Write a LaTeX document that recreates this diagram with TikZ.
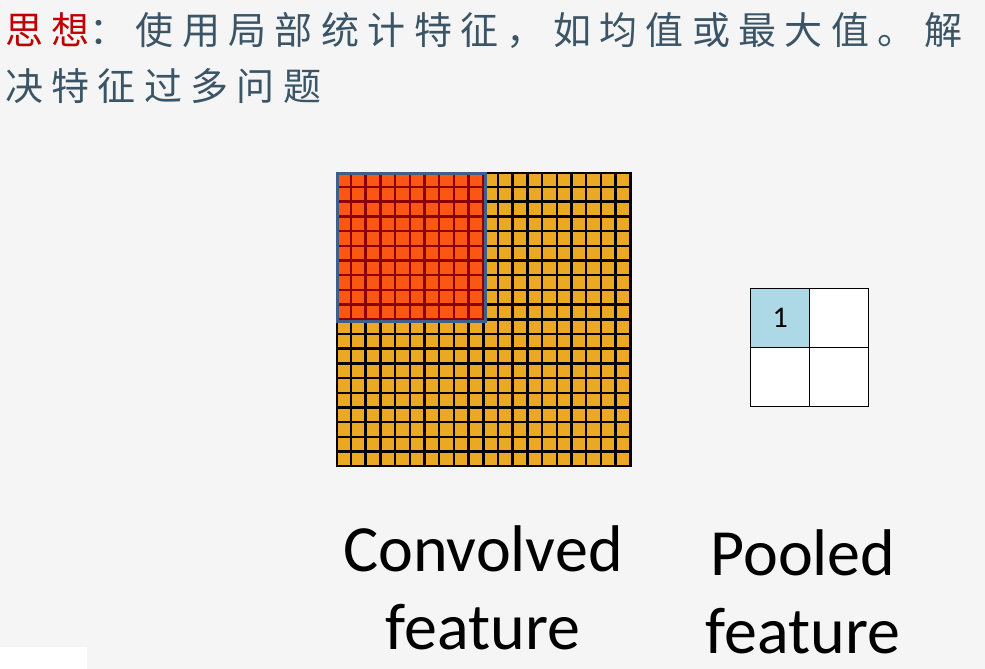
\documentclass[tikz,border=0pt]{standalone}
\usepackage{fontspec}
\setmainfont{Carlito}
\newfontfamily\cjk[LetterSpace=22]{Noto Sans CJK SC}
\definecolor{bgc}{HTML}{F5F5F5}
\definecolor{titlec}{HTML}{3B5566}
\definecolor{redc}{HTML}{C00000}
\definecolor{orc}{HTML}{EBA923}
\definecolor{rc}{HTML}{FB5713}
\definecolor{drc}{HTML}{8A0000}
\definecolor{bluec}{HTML}{3E5F8A}
\definecolor{lbc}{HTML}{ADD8E6}
\tikzset{lbl/.style={font=\fontsize{66}{78}\selectfont, align=center, text=black}}
\begin{document}
\begin{tikzpicture}[x=1pt,y=-1pt]
\useasboundingbox (0,0) rectangle (985,669);
\fill[bgc] (0,0) rectangle (985,669);
\fill[white] (0,647) rectangle (87,669);
\node[anchor=base west, inner sep=0, text=titlec, font=\cjk\fontsize{38}{40}\selectfont] (t1) at (5,45) {\textcolor{redc}{思想}：使用局部统计特征，如均值或最大值。解};
\node[anchor=base west, inner sep=0, text=titlec, font=\cjk\fontsize{38}{40}\selectfont] (t2) at (5,100) {决特征过多问题};
% convolved grid
\fill[black] (336,172) rectangle (632,467);
\fill[drc] (336,172) rectangle (484,320);
\foreach \i in {0,...,19}{\foreach \j in {0,...,19}{
  \pgfmathsetmacro{\xa}{337.5+\i*14.7}
  \pgfmathsetmacro{\ya}{173.5+\j*14.7}
  \ifnum\i<10 \ifnum\j<10 \def\cc{rc}\else\def\cc{orc}\fi\else\def\cc{orc}\fi
  \fill[\cc] (\xa,\ya) rectangle ++(12.2,12.2);
}}
\node[draw=bluec, line width=3pt, minimum width=148pt, minimum height=148pt, inner sep=0, anchor=north west] (win) at (336,172) {};
% pooled
\node[draw=black, fill=lbc, line width=1.3pt, minimum size=59pt, inner sep=0, anchor=north west, font=\fontsize{30}{32}\selectfont] (p1) at (750,288) {1};
\node[draw=black, fill=white, line width=1.3pt, minimum size=59pt, inner sep=0, anchor=north west] (p2) at (809,288) {};
\node[draw=black, fill=white, line width=1.3pt, minimum size=59pt, inner sep=0, anchor=north west] (p3) at (750,347) {};
\node[draw=black, fill=white, line width=1.3pt, minimum size=59pt, inner sep=0, anchor=north west] (p4) at (809,347) {};
\node[lbl] (l1) at (483,588) {Convolved\\feature};
\node[lbl] (l2) at (803,592) {Pooled\\feature};
\end{tikzpicture}
\end{document}
